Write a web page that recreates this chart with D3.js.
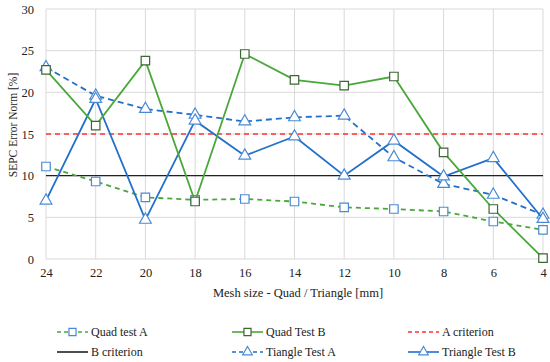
<!DOCTYPE html>
<html>
<head>
<meta charset="utf-8">
<script src="https://cdn.jsdelivr.net/npm/d3@7"></script>
<style>
  body { margin: 0; background: #fff; }
</style>
</head>
<body>
<svg width="550" height="362" font-family="Liberation Serif"></svg>
<script>
var meshSizes = [24, 22, 20, 18, 16, 14, 12, 10, 8, 6, 4];
var yTicks = [0, 5, 10, 15, 20, 25, 30];
var quadTestA = [11.1, 9.3, 7.4, 7.1, 7.2, 6.9, 6.2, 6.0, 5.7, 4.5, 3.5];
var quadTestB = [22.7, 16.0, 23.8, 6.9, 24.6, 21.5, 20.8, 21.9, 12.8, 6.0, 0.1];
var triangleTestA = [23.0, 19.6, 18.0, 17.3, 16.5, 17.0, 17.2, 12.2, 9.0, 7.7, 5.3];
var triangleTestB = [7.0, 19.2, 4.7, 16.6, 12.4, 14.7, 10.0, 14.2, 9.9, 12.1, 4.8];
var aCriterion = 15;
var bCriterion = 10;

var FONT = "Liberation Serif";

var svg = d3.select("svg"),
  margin = {top: 9, right: 7, bottom: 103, left: 46},
  width = +svg.attr("width") - margin.left - margin.right,
  height = +svg.attr("height") - margin.top - margin.bottom,
  g = svg.append("g").attr("transform", "translate(" + margin.left + "," + margin.top + ")");

var x = d3.scalePoint().domain(meshSizes).range([0, width]);
var y = d3.scaleLinear().domain([0, 30]).range([height, 0]);

// grid
g.append("g").selectAll("line").data(yTicks).enter().append("line")
  .attr("x1", 0).attr("x2", width)
  .attr("y1", function(d) { return y(d); }).attr("y2", function(d) { return y(d); })
  .attr("stroke", "#d9d9d9").attr("stroke-width", 1);
g.append("g").selectAll("line").data(meshSizes).enter().append("line")
  .attr("x1", function(d) { return x(d); }).attr("x2", function(d) { return x(d); })
  .attr("y1", 0).attr("y2", height)
  .attr("stroke", "#d9d9d9").attr("stroke-width", 1);

// axes (labels only)
var yAxis = g.append("g").call(d3.axisLeft(y).tickValues(yTicks).tickSize(0).tickPadding(12));
yAxis.attr("font-family", FONT).attr("font-size", 12.5);
yAxis.select(".domain").remove();
yAxis.selectAll("text").attr("fill", "#222");

var xAxis = g.append("g").attr("transform", "translate(0," + height + ")")
  .call(d3.axisBottom(x).tickSize(0).tickPadding(9));
xAxis.attr("font-family", FONT).attr("font-size", 12.5);
xAxis.select(".domain").remove();
xAxis.selectAll("text").attr("fill", "#222");

svg.append("text")
  .attr("x", 298).attr("y", 293).attr("dy", "0.35em")
  .attr("text-anchor", "middle").attr("font-size", 12.5).attr("fill", "#222")
  .attr("font-family", FONT)
  .text("Mesh size - Quad / Triangle [mm]");

svg.append("text")
  .attr("transform", "translate(13,125) rotate(-90)")
  .attr("dy", "0.35em")
  .attr("text-anchor", "middle").attr("font-size", 11.5).attr("fill", "#222")
  .attr("font-family", FONT)
  .text("SEPC Error Norm [%]");

var green = "#4aa83a", blue = "#2270cc", red = "#ff3030";

var series = [
  {name: "Quad test A", values: quadTestA, color: green, dash: "5,4", marker: "square", mstroke: "#4a8ad4"},
  {name: "Quad Test B", values: quadTestB, color: green, dash: null, marker: "square", mstroke: "#3c6633"},
  {name: "Tiangle Test A", values: triangleTestA, color: blue, dash: "6,4", marker: "triangle", mstroke: "#4a8ad4"},
  {name: "Triangle Test B", values: triangleTestB, color: blue, dash: null, marker: "triangle", mstroke: "#4a8ad4"}
];

// criteria
g.append("line").attr("x1", 0).attr("x2", width)
  .attr("y1", y(aCriterion)).attr("y2", y(aCriterion))
  .attr("stroke", red).attr("stroke-width", 1.6).attr("stroke-dasharray", "5,4");
g.append("line").attr("x1", 0).attr("x2", width)
  .attr("y1", y(bCriterion)).attr("y2", y(bCriterion))
  .attr("stroke", "#222").attr("stroke-width", 1.4);

var line = d3.line()
  .x(function(d, i) { return x(meshSizes[i]); })
  .y(function(d) { return y(d); });

var sq = d3.symbol().type(d3.symbolSquare).size(72);
var tri = d3.symbol().type(d3.symbolTriangle).size(60);

[series[0], series[2], series[3], series[1]].forEach(function(s) {
  g.append("path").datum(s.values)
    .attr("fill", "none").attr("stroke", s.color).attr("stroke-width", 1.8)
    .attr("stroke-dasharray", s.dash)
    .attr("d", line);
  g.append("g").selectAll("path").data(s.values).enter().append("path")
    .attr("transform", function(d, i) { return "translate(" + x(meshSizes[i]) + "," + y(d) + ")"; })
    .attr("d", s.marker === "square" ? sq : tri)
    .attr("fill", "#fff").attr("stroke", s.mstroke).attr("stroke-width", 1.2);
});

// legend
var legendItems = [
  {name: "Quad test A", color: green, dash: "4,3", marker: "square", mstroke: "#4a8ad4"},
  {name: "Quad Test B", color: green, dash: null, marker: "square", mstroke: "#3c6633"},
  {name: "A criterion", color: red, dash: "4,3", marker: null},
  {name: "B criterion", color: "#222", dash: null, marker: null},
  {name: "Tiangle Test A", color: blue, dash: "4,3", marker: "triangle", mstroke: "#4a8ad4"},
  {name: "Triangle Test B", color: blue, dash: null, marker: "triangle", mstroke: "#4a8ad4"}
];
var colX = [57, 232, 408], rowY = [332, 352];
var lg = svg.append("g").selectAll("g").data(legendItems).enter().append("g")
  .attr("transform", function(d, i) { return "translate(" + colX[i % 3] + "," + rowY[Math.floor(i / 3)] + ")"; });
lg.append("line").attr("x1", 0).attr("x2", 31).attr("y1", 0).attr("y2", 0)
  .attr("stroke", function(d) { return d.color; }).attr("stroke-width", 1.6)
  .attr("stroke-dasharray", function(d) { return d.dash; });
lg.filter(function(d) { return d.marker; }).append("path")
  .attr("transform", "translate(15.5,0)")
  .attr("d", function(d) { return d.marker === "square" ? d3.symbol().type(d3.symbolSquare).size(50)() : d3.symbol().type(d3.symbolTriangle).size(40)(); })
  .attr("fill", "#fff").attr("stroke", function(d) { return d.mstroke; }).attr("stroke-width", 1.2);
lg.append("text").attr("x", 34).attr("y", 0).attr("dy", "0.35em")
  .attr("font-size", 12).attr("fill", "#222").attr("font-family", FONT)
  .text(function(d) { return d.name; });
</script>
</body>
</html>
